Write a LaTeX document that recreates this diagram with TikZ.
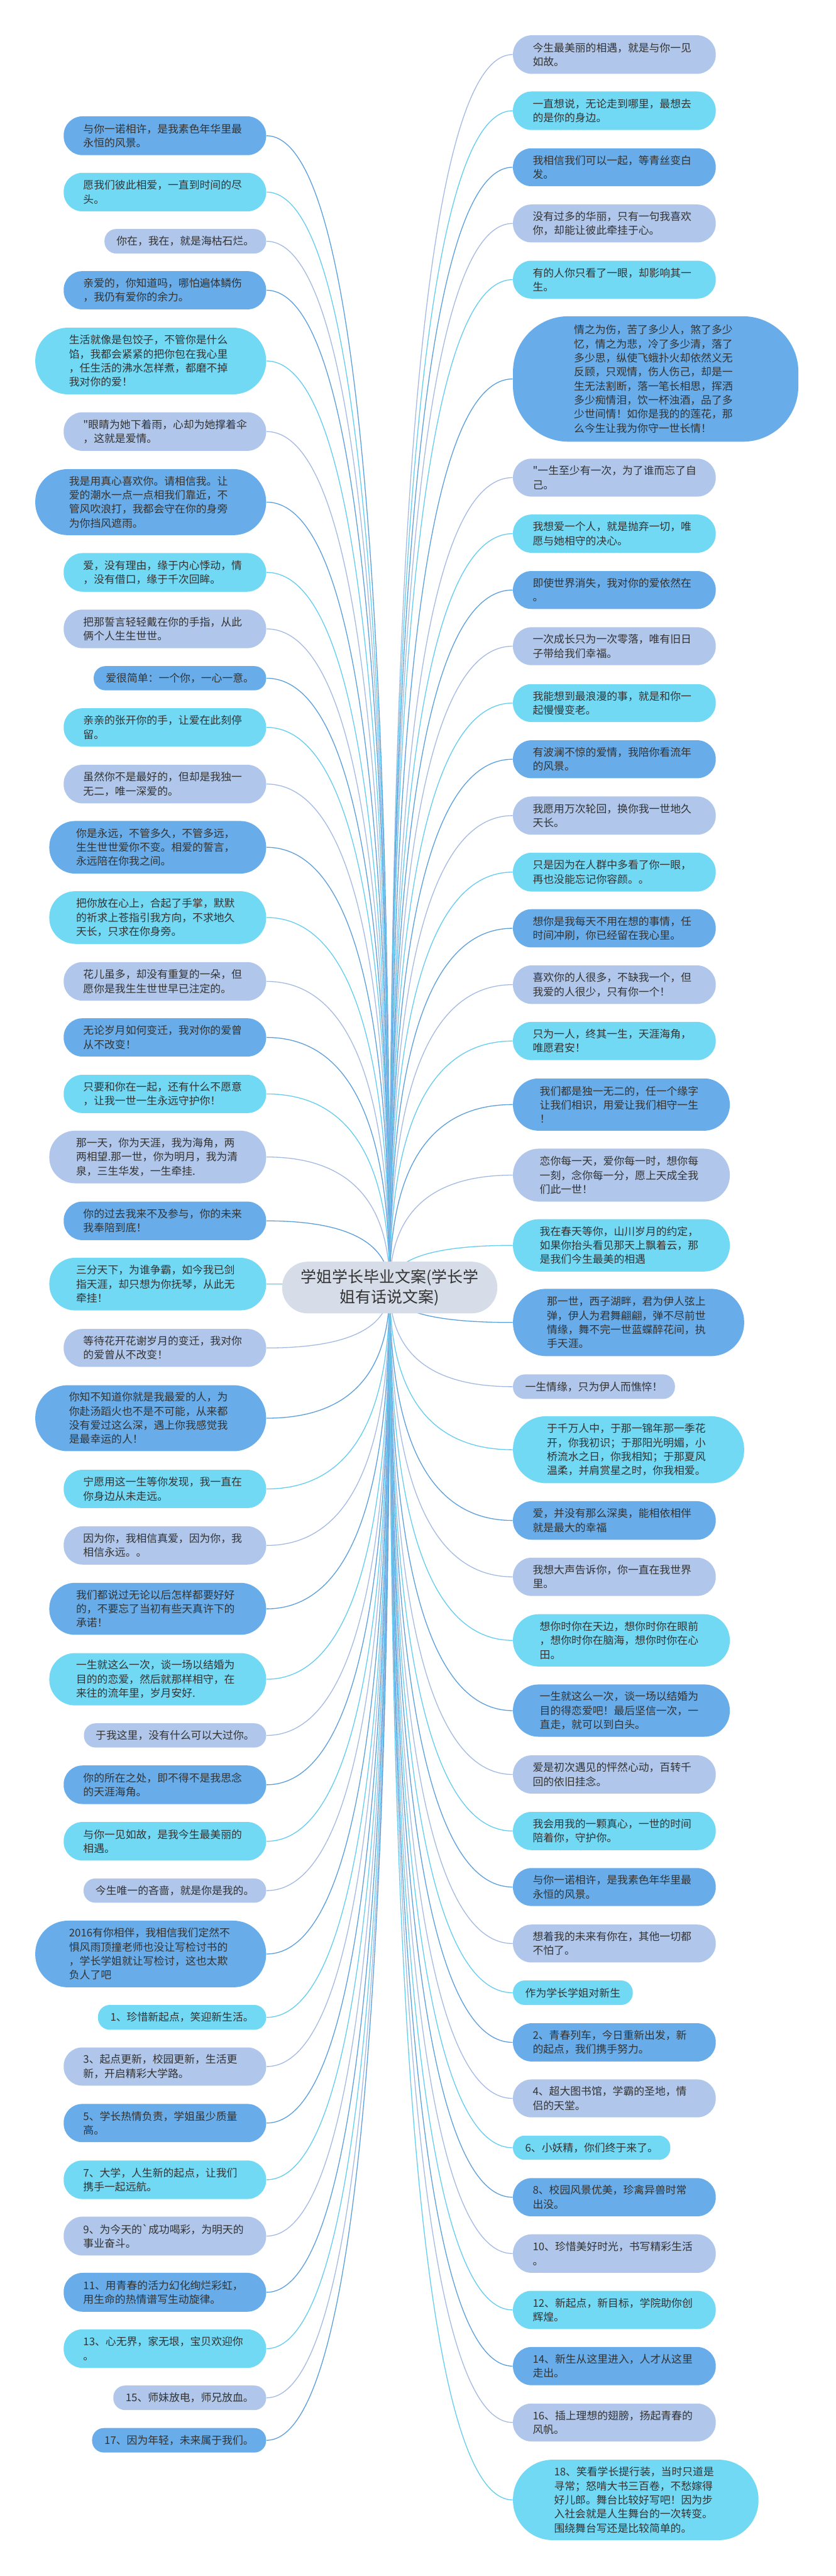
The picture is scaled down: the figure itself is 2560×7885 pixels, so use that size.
\documentclass[tikz,border=0pt]{standalone}
\usepackage{fontspec}
\newfontfamily\cjk{Noto Sans CJK SC}
\usetikzlibrary{calc}
\definecolor{cblue}{HTML}{68ADEA}
\definecolor{ccyan}{HTML}{72D9F5}
\definecolor{clav}{HTML}{B0C6EA}
\definecolor{lblue}{HTML}{5A9EDC}
\definecolor{lcyan}{HTML}{62CDEE}
\definecolor{llav}{HTML}{A4B9E2}
\definecolor{ccent}{HTML}{D6DDE9}
\definecolor{txt}{HTML}{333333}
\pgfdeclarelayer{bg}\pgfdeclarelayer{lines}\pgfsetlayers{bg,lines,main}
\tikzset{
  bubble/.style={draw=none,inner sep=0pt,text=txt,font=\cjk\fontsize{6.48pt}{8.6pt}\selectfont,align=left},
  ml/.style={text width=100pt},
  conn/.style={line width=0.5pt},
  centre/.style={draw=none,inner sep=0pt,fill=ccent,text=txt,font=\cjk\fontsize{9.6pt}{12.4pt}\selectfont,align=center,
    minimum width=131.8pt,minimum height=31.6pt,rounded corners=15.6pt}
}
\newcommand\bub[8][]{\node[bubble,fill=#7,minimum width={0.2pt*(#5-#3)},minimum height={0.2pt*(#6-#4)},rounded corners={0.1pt*(#6-#4)-0.3pt},#1] (#2) at ({(#3+#5)/2},{(#4+#6)/2}) {#8};}
\newcommand\conn[3]{\coordinate (q) at (c.center|-#1.#2);
  \draw[conn,#3] (c.center) .. controls ($(c.center)!0.6667!(q)$) and ($(#1.#2)!0.6667!(q)$) .. (#1.#2);}
\begin{document}
\begin{tikzpicture}[x=0.2pt,y=-0.2pt]
\begin{pgfonlayer}{bg}\fill[white] (0,0) rectangle (2560,7885);\end{pgfonlayer}
\useasboundingbox (0,0) rectangle (2560,7885);
\node[centre] (c) at (1193.5,3941) {学姐学长毕业文案(学长学\\姐有话说文案)};
% left
\bub[ml]{L1}{195}{356}{815}{475}{cblue}{与你一诺相许，是我素色年华里最\\永恒的风景。}
\bub[ml]{L2}{195}{529}{815}{647}{ccyan}{愿我们彼此相爱，一直到时间的尽\\头。}
\bub{L3}{320}{701}{815}{776}{clav}{你在，我在，就是海枯石烂。}
\bub[ml]{L4}{195}{830}{815}{947}{cblue}{亲爱的，你知道吗，哪怕遍体鳞伤\\，我仍有爱你的余力。}
\bub[ml]{L5}{108}{1003}{815}{1207}{ccyan}{生活就像是包饺子，不管你是什么\\馅，我都会紧紧的把你包在我心里\\，任生活的沸水怎样煮，都磨不掉\\我对你的爱！}
\bub[ml]{L6}{195}{1262}{815}{1380}{clav}{"眼睛为她下着雨，心却为她撑着伞\\，这就是爱情。}
\bub[ml]{L7}{108}{1436}{815}{1638}{cblue}{我是用真心喜欢你。请相信我。让\\爱的潮水一点一点相我们靠近，不\\管风吹浪打，我都会守在你的身旁\\为你挡风遮雨。}
\bub[ml]{L8}{195}{1693}{815}{1811}{ccyan}{爱，没有理由，缘于内心悸动，情\\，没有借口，缘于千次回眸。}
\bub[ml]{L9}{195}{1866}{815}{1984}{clav}{把那誓言轻轻戴在你的手指，从此\\俩个人生生世世。}
\bub{L10}{287}{2039}{815}{2113}{cblue}{爱很简单：一个你，一心一意。}
\bub[ml]{L11}{195}{2168}{815}{2285}{ccyan}{亲亲的张开你的手，让爱在此刻停\\留。}
\bub[ml]{L12}{195}{2341}{815}{2459}{clav}{虽然你不是最好的，但却是我独一\\无二，唯一深爱的。}
\bub[ml]{L13}{151}{2513}{815}{2674}{cblue}{你是永远，不管多久，不管多远，\\生生世世爱你不变。相爱的誓言，\\永远陪在你我之间。}
\bub[ml]{L14}{151}{2728}{815}{2889}{ccyan}{把你放在心上，合起了手掌，默默\\的祈求上苍指引我方向，不求地久\\天长，只求在你身旁。}
\bub[ml]{L15}{195}{2945}{815}{3063}{clav}{花儿虽多，却没有重复的一朵，但\\愿你是我生生世世早已注定的。}
\bub[ml]{L16}{195}{3117}{815}{3234}{cblue}{无论岁月如何变迁，我对你的爱曾\\从不改变！}
\bub[ml]{L17}{195}{3290}{815}{3407}{ccyan}{只要和你在一起，还有什么不愿意\\，让我一世一生永远守护你！}
\bub[ml]{L18}{151}{3461}{815}{3622}{clav}{那一天，你为天涯，我为海角，两\\两相望.那一世，你为明月，我为清\\泉，三生华发，一生牵挂.}
\bub[ml]{L19}{195}{3678}{815}{3796}{cblue}{你的过去我来不及参与，你的未来\\我奉陪到底！}
\bub[ml]{L20}{151}{3850}{815}{4011}{ccyan}{三分天下，为谁争霸，如今我已剑\\指天涯，却只想为你抚琴，从此无\\牵挂！}
\bub[ml]{L21}{195}{4068}{815}{4184}{clav}{等待花开花谢岁月的变迁，我对你\\的爱曾从不改变！}
\bub[ml]{L22}{108}{4240}{815}{4442}{cblue}{你知不知道你就是我最爱的人，为\\你赴汤蹈火也不是不可能，从来都\\没有爱过这么深，遇上你我感觉我\\是最幸运的人！}
\bub[ml]{L23}{195}{4499}{815}{4616}{ccyan}{宁愿用这一生等你发现，我一直在\\你身边从未走远。}
\bub[ml]{L24}{195}{4672}{815}{4789}{clav}{因为你，我相信真爱，因为你，我\\相信永远。。}
\bub[ml]{L25}{151}{4845}{815}{5004}{cblue}{我们都说过无论以后怎样都要好好\\的，不要忘了当初有些天真许下的\\承诺！}
\bub[ml]{L26}{151}{5060}{815}{5220}{ccyan}{一生就这么一次，谈一场以结婚为\\目的的恋爱，然后就那样相守，在\\来往的流年里，岁月安好.}
\bub{L27}{257}{5275}{815}{5349}{clav}{于我这里，没有什么可以大过你。}
\bub[ml]{L28}{195}{5404}{815}{5522}{cblue}{你的所在之处，即不得不是我思念\\的天涯海角。}
\bub[ml]{L29}{195}{5577}{815}{5695}{ccyan}{与你一见如故，是我今生最美丽的\\相遇。}
\bub{L30}{256}{5750}{815}{5824}{clav}{今生唯一的吝啬，就是你是我的。}
\bub[ml]{L31}{108}{5879}{815}{6083}{cblue}{2016有你相伴，我相信我们定然不\\惧风雨顶撞老师也没让写检讨书的\\，学长学姐就让写检讨，这也太欺\\负人了吧}
\bub{L32}{300}{6137}{815}{6213}{ccyan}{1、珍惜新起点，笑迎新生活。}
\bub[ml]{L33}{195}{6267}{815}{6384}{clav}{3、起点更新，校园更新，生活更\\新，开启精彩大学路。}
\bub[ml]{L34}{195}{6440}{815}{6557}{cblue}{5、学长热情负责，学姐虽少质量\\高。}
\bub[ml]{L35}{195}{6613}{815}{6731}{ccyan}{7、大学，人生新的起点，让我们\\携手一起远航。}
\bub[ml]{L36}{195}{6785}{815}{6904}{clav}{9、为今天的`成功喝彩，为明天的\\事业奋斗。}
\bub[ml]{L37}{195}{6957}{815}{7076}{cblue}{11、用青春的活力幻化绚烂彩虹，\\用生命的热情谱写生动旋律。}
\bub[ml]{L38}{195}{7130}{815}{7248}{ccyan}{13、心无界，家无垠，宝贝欢迎你\\。}
\bub{L39}{347}{7302}{815}{7377}{clav}{15、师妹放电，师兄放血。}
\bub{L40}{282}{7432}{815}{7507}{cblue}{17、因为年轻，未来属于我们。}
% right
\bub[ml]{R1}{1571}{108}{2192}{226}{clav}{今生最美丽的相遇，就是与你一见\\如故。}
\bub[ml]{R2}{1571}{280}{2192}{398}{ccyan}{一直想说，无论走到哪里，最想去\\的是你的身边。}
\bub[ml]{R3}{1571}{454}{2192}{570}{cblue}{我相信我们可以一起，等青丝变白\\发。}
\bub[ml]{R4}{1571}{626}{2192}{742}{clav}{没有过多的华丽，只有一句我喜欢\\你，却能让彼此牵挂于心。}
\bub[ml]{R5}{1571}{798}{2192}{914}{ccyan}{有的人你只看了一眼，却影响其一\\生。}
\bub[ml,rounded corners=34pt]{R6}{1571}{968}{2445}{1352}{cblue}{情之为伤，苦了多少人，煞了多少\\忆，情之为悲，冷了多少清，落了\\多少思，纵使飞蛾扑火却依然义无\\反顾，只观情，伤人伤己，却是一\\生无法割断，落一笔长相思，挥洒\\多少痴情泪，饮一杯浊酒，品了多\\少世间情！如你是我的的莲花，那\\么今生让我为你守一世长情！}
\bub[ml]{R7}{1571}{1404}{2192}{1520}{clav}{"一生至少有一次，为了谁而忘了自\\己。}
\bub[ml]{R8}{1571}{1575}{2192}{1692}{ccyan}{我想爱一个人，就是抛弃一切，唯\\愿与她相守的决心。}
\bub[ml]{R9}{1571}{1748}{2192}{1864}{cblue}{即使世界消失，我对你的爱依然在\\。}
\bub[ml]{R10}{1571}{1920}{2192}{2036}{clav}{一次成长只为一次零落，唯有旧日\\子带给我们幸福。}
\bub[ml]{R11}{1571}{2094}{2192}{2210}{ccyan}{我能想到最浪漫的事，就是和你一\\起慢慢变老。}
\bub[ml]{R12}{1571}{2266}{2192}{2382}{cblue}{有波澜不惊的爱情，我陪你看流年\\的风景。}
\bub[ml]{R13}{1571}{2438}{2192}{2555}{clav}{我愿用万次轮回，换你我一世地久\\天长。}
\bub[ml]{R14}{1571}{2610}{2192}{2729}{ccyan}{只是因为在人群中多看了你一眼，\\再也没能忘记你容颜。。}
\bub[ml]{R15}{1571}{2783}{2192}{2900}{cblue}{想你是我每天不用在想的事情，任\\时间冲刷，你已经留在我心里。}
\bub[ml]{R16}{1571}{2955}{2192}{3073}{clav}{喜欢你的人很多，不缺我一个，但\\我爱的人很少，只有你一个！}
\bub[ml]{R17}{1571}{3128}{2192}{3245}{ccyan}{只为一人，终其一生，天涯海角，\\唯愿君安！}
\bub[ml]{R18}{1571}{3301}{2235}{3461}{cblue}{我们都是独一无二的，任一个缘字\\让我们相识，用爱让我们相守一生\\！}
\bub[ml]{R19}{1571}{3516}{2235}{3678}{clav}{恋你每一天，爱你每一时，想你每\\一刻，念你每一分，愿上天成全我\\们此一世！}
\bub[ml]{R20}{1571}{3732}{2235}{3892}{ccyan}{我在春天等你，山川岁月的约定，\\如果你抬头看见那天上飘着云，那\\是我们今生最美的相遇}
\bub[ml]{R21}{1571}{3945}{2279}{4151}{cblue}{那一世，西子湖畔，君为伊人弦上\\弹，伊人为君舞翩翩，弹不尽前世\\情缘，舞不完一世蓝蝶醉花间，执\\手天涯。}
\bub{R22}{1571}{4207}{2067}{4282}{clav}{一生情缘，只为伊人而憔悴！}
\bub[ml]{R23}{1571}{4335}{2279}{4540}{ccyan}{于千万人中，于那一锦年那一季花\\开，你我初识；于那阳光明媚，小\\桥流水之日，你我相知；于那夏风\\温柔，并肩赏星之时，你我相爱。}
\bub[ml]{R24}{1571}{4595}{2192}{4713}{cblue}{爱，并没有那么深奥，能相依相伴\\就是最大的幸福}
\bub[ml]{R25}{1571}{4768}{2192}{4885}{clav}{我想大声告诉你，你一直在我世界\\里。}
\bub[ml]{R26}{1571}{4941}{2235}{5101}{ccyan}{想你时你在天边，想你时你在眼前\\，想你时你在脑海，想你时你在心\\田。}
\bub[ml]{R27}{1571}{5156}{2235}{5316}{cblue}{一生就这么一次，谈一场以结婚为\\目的得恋爱吧！最后坚信一次，一\\直走，就可以到白头。}
\bub[ml]{R28}{1571}{5373}{2192}{5490}{clav}{爱是初次遇见的怦然心动，百转千\\回的依旧挂念。}
\bub[ml]{R29}{1571}{5546}{2192}{5663}{ccyan}{我会用我的一颗真心，一世的时间\\陪着你，守护你。}
\bub[ml]{R30}{1571}{5718}{2192}{5834}{cblue}{与你一诺相许，是我素色年华里最\\永恒的风景。}
\bub[ml]{R31}{1571}{5891}{2192}{6007}{clav}{想着我的未来有你在，其他一切都\\不怕了。}
\bub{R32}{1571}{6062}{1938}{6137}{ccyan}{作为学长学姐对新生}
\bub[ml]{R33}{1571}{6193}{2192}{6310}{cblue}{2、青春列车，今日重新出发，新\\的起点，我们携手努力。}
\bub[ml]{R34}{1571}{6365}{2192}{6481}{clav}{4、超大图书馆，学霸的圣地，情\\侣的天堂。}
\bub{R35}{1571}{6537}{2053}{6611}{ccyan}{6、小妖精，你们终于来了。}
\bub[ml]{R36}{1571}{6667}{2192}{6784}{cblue}{8、校园风景优美，珍禽异兽时常\\出没。}
\bub[ml]{R37}{1571}{6839}{2192}{6957}{clav}{10、珍惜美好时光，书写精彩生活\\。}
\bub[ml]{R38}{1571}{7012}{2192}{7129}{ccyan}{12、新起点，新目标，学院助你创\\辉煌。}
\bub[ml]{R39}{1571}{7184}{2192}{7301}{cblue}{14、新生从这里进入，人才从这里\\走出。}
\bub[ml]{R40}{1571}{7357}{2192}{7473}{clav}{16、插上理想的翅膀，扬起青春的\\风帆。}
\bub[ml]{R41}{1571}{7529}{2323}{7775}{ccyan}{18、笑看学长提行装，当时只道是\\寻常；怒啃大书三百卷，不愁嫁得\\好儿郎。舞台比较好写吧！因为步\\入社会就是人生舞台的一次转变。\\围绕舞台写还是比较简单的。}
\begin{pgfonlayer}{lines}
\conn{L1}{east}{lblue}\conn{L2}{east}{lcyan}\conn{L3}{east}{llav}
\conn{L4}{east}{lblue}\conn{L5}{east}{lcyan}\conn{L6}{east}{llav}
\conn{L7}{east}{lblue}\conn{L8}{east}{lcyan}\conn{L9}{east}{llav}
\conn{L10}{east}{lblue}\conn{L11}{east}{lcyan}\conn{L12}{east}{llav}
\conn{L13}{east}{lblue}\conn{L14}{east}{lcyan}\conn{L15}{east}{llav}
\conn{L16}{east}{lblue}\conn{L17}{east}{lcyan}\conn{L18}{east}{llav}
\conn{L19}{east}{lblue}\conn{L20}{east}{lcyan}\conn{L21}{east}{llav}
\conn{L22}{east}{lblue}\conn{L23}{east}{lcyan}\conn{L24}{east}{llav}
\conn{L25}{east}{lblue}\conn{L26}{east}{lcyan}\conn{L27}{east}{llav}
\conn{L28}{east}{lblue}\conn{L29}{east}{lcyan}\conn{L30}{east}{llav}
\conn{L31}{east}{lblue}\conn{L32}{east}{lcyan}\conn{L33}{east}{llav}
\conn{L34}{east}{lblue}\conn{L35}{east}{lcyan}\conn{L36}{east}{llav}
\conn{L37}{east}{lblue}\conn{L38}{east}{lcyan}\conn{L39}{east}{llav}
\conn{L40}{east}{lblue}
\conn{R1}{west}{llav}\conn{R2}{west}{lcyan}\conn{R3}{west}{lblue}
\conn{R4}{west}{llav}\conn{R5}{west}{lcyan}\conn{R6}{west}{lblue}
\conn{R7}{west}{llav}\conn{R8}{west}{lcyan}\conn{R9}{west}{lblue}
\conn{R10}{west}{llav}\conn{R11}{west}{lcyan}\conn{R12}{west}{lblue}
\conn{R13}{west}{llav}\conn{R14}{west}{lcyan}\conn{R15}{west}{lblue}
\conn{R16}{west}{llav}\conn{R17}{west}{lcyan}\conn{R18}{west}{lblue}
\conn{R19}{west}{llav}\conn{R20}{west}{lcyan}\conn{R21}{west}{lblue}
\conn{R22}{west}{llav}\conn{R23}{west}{lcyan}\conn{R24}{west}{lblue}
\conn{R25}{west}{llav}\conn{R26}{west}{lcyan}\conn{R27}{west}{lblue}
\conn{R28}{west}{llav}\conn{R29}{west}{lcyan}\conn{R30}{west}{lblue}
\conn{R31}{west}{llav}\conn{R32}{west}{lcyan}\conn{R33}{west}{lblue}
\conn{R34}{west}{llav}\conn{R35}{west}{lcyan}\conn{R36}{west}{lblue}
\conn{R37}{west}{llav}\conn{R38}{west}{lcyan}\conn{R39}{west}{lblue}
\conn{R40}{west}{llav}\conn{R41}{west}{lcyan}
\end{pgfonlayer}
\end{tikzpicture}
\end{document}
